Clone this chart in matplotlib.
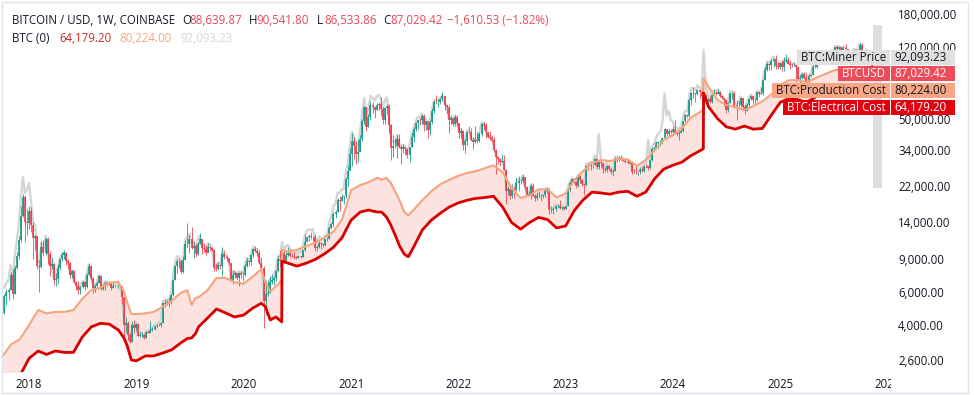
"""BTC weekly candles against miner price, production cost and electrical cost (log scale)."""

# 3rd party libraries
import matplotlib
matplotlib.use("Agg")
import numpy as np
import pandas as pd
import matplotlib.dates as mdates
from matplotlib import pyplot as plt
from matplotlib.patches import Rectangle
from matplotlib.transforms import IdentityTransform

FIG_W, FIG_H = 974, 395

# weekly bars (Coinbase BTC/USD), first bar opens Monday 2017-10-09
first_week = "2017-10-09"
first_open = 4610.0

close_usd = [
    5700, 6010, 6130, 7370, 5860, 8050, 9300, 11300, 15200, 19200, 14000, 13900,
    16200, 13600, 11600, 11800, 8200, 8100, 10400, 9600, 11500, 9500, 8200, 8450, 6930,
    7000, 8000, 8900, 9400, 9650, 8700, 8500, 7350, 7700, 6750, 6450, 6150, 6350,
    6750, 6350, 7400, 8200, 7050, 6300, 6400, 6700, 7270, 6200, 6500, 6700, 6620,
    6590, 6300, 6400, 6420, 6450, 6420, 5600, 4000, 4100, 3530, 3230, 3970, 3850, 4050,
    3500, 3530, 3540, 3410, 3650, 3630, 3750, 3800, 3930, 4000, 3990, 4100,
    5200, 5170, 5300, 5200, 5750, 6960, 8200, 8750, 8740, 7650, 8850, 10700, 10800,
    11450, 10250, 10550, 9500, 10800, 11400, 10300, 10150, 9600, 10400, 10300, 10000, 8050, 7900,
    8300, 8250, 9550, 9200, 9050, 8500, 6900, 7400, 7500, 7100, 7500, 7400, 7350,
    8180, 8700, 8600, 9350, 10150, 9900, 9650, 8550, 8040, 5350, 5800, 5900, 6780,
    6900, 7120, 7700, 8900, 8750, 9680, 8720, 9450, 9670, 9340, 9300, 9120, 9070,
    9300, 9200, 9950, 11050, 11680, 11900, 11650, 11710, 10280, 10330, 10920, 10780, 10670,
    11380, 11500, 13030, 13740, 15480, 15960, 18400, 18180, 19150, 19270, 23860, 26280, 32200,
    38200, 35800, 32300, 33100, 38900, 48600, 57500, 45200, 51200, 59000, 57550, 55800, 58700,
    59800, 56200, 49100, 56600, 58200, 46400, 34700, 35650, 35800, 39100, 35500, 34600, 35300,
    34250, 31800, 35400, 39850, 43800, 47100, 49300, 48850, 51800, 46000, 48300, 43200, 48200,
    55000, 61500, 60900, 61300, 63300, 65500, 58700, 57300, 49400, 50100, 46700, 50800, 47300,
    41800, 43100, 36300, 38200, 42400, 42200, 38400, 37700, 38400, 37800, 41300, 46800, 46400,
    42200, 39700, 39450, 38500, 34100, 31300, 30300, 29450, 29900, 26600, 20550, 21050, 19300,
    20850, 20800, 22600, 23300, 23200, 24300, 21500, 19550, 19800, 21800, 19400, 18800, 19300,
    19400, 19250, 19550, 20600, 20900, 16300, 16250, 16450, 17100, 17100, 16750, 16850, 16600,
    17100, 20900, 22700, 23750, 22950, 21800, 24650, 23550, 22400, 22150, 28000, 27950, 28450,
    28300, 30300, 27600, 29250, 28900, 26900, 26750, 28050, 27100, 25850, 26350, 30500, 30600,
    30150, 30250, 29800, 29300, 29050, 29300, 26100, 26000, 25850, 25850, 26550, 26250, 27950,
    27900, 27150, 29950, 34500, 35000, 37100, 37400, 37450, 39450, 43800, 41350, 43000, 42250,
    43900, 41700, 41600, 42000, 43000, 48300, 52150, 51700, 63100, 68400, 68400, 67200, 71300,
    69350, 65700, 64950, 63100, 63900, 61500, 66950, 68500, 67800, 69600, 66300, 64300, 62700,
    55850, 60800, 68200, 68200, 58100, 58700, 58900, 64200, 57300, 54850, 59100, 63300, 65600, 62800,
    62800, 69000, 67900, 68700, 80400, 90500, 97800, 96400, 101200, 104300, 95200, 93700, 98300,
    94500, 101100, 102600, 97700, 96500, 96150, 96300, 94200, 80700, 82600, 86100, 82400, 78300,
    83700, 85200, 93750, 94300, 104600, 106500, 109000, 104600, 105700, 105500, 100900, 108400, 109200,
    119800, 117300, 119400, 114200, 119300, 117400, 113500, 108200, 111150, 115300, 115250, 112150, 123500,
    115100, 108600, 114500, 110500, 104700, 94200, 88640, 87029.42,
]

high_usd = [
    5860, 6190, 6300, 7600, 7880, 8300, 9700, 11800, 17200, 19890, 19500, 16600,
    17200, 17000, 14100, 12000, 11900, 8800, 11200, 11300, 11700, 11700, 9900, 9200, 8500,
    7500, 8450, 9000, 9750, 9950, 9700, 8900, 8600, 7800, 7800, 6850, 6800, 6450,
    6800, 6800, 7550, 8500, 8300, 7150, 6600, 6800, 7400, 7400, 6600, 6800, 6800,
    6700, 6700, 6800, 6520, 6550, 6550, 6450, 5650, 4400, 4200, 3600, 4200, 4250, 4100,
    4100, 3700, 3650, 3580, 3700, 3700, 4200, 3900, 3950, 4050, 4080, 4150,
    5300, 5450, 5400, 5600, 5850, 7000, 8350, 8950, 9100, 8800, 9300, 11300, 13880,
    12000, 13200, 11100, 10700, 11000, 12300, 11450, 10950, 10600, 10900, 10450, 10350, 10100, 8550,
    8650, 8400, 10350, 9950, 9450, 9100, 8500, 7850, 7750, 7500, 7650, 7700, 7600,
    8450, 9200, 8800, 9550, 10200, 10500, 10250, 9950, 9200, 8200, 6950, 6950, 7300,
    7450, 7250, 7780, 9450, 10000, 9950, 9850, 9750, 10400, 9950, 9600, 9700, 9300,
    9450, 9330, 10000, 12100, 11850, 12100, 12450, 11800, 12100, 10600, 11100, 10980, 10950,
    11450, 11750, 13350, 14100, 15950, 16400, 18800, 19400, 19900, 19400, 24300, 28400, 34800,
    42000, 40100, 37800, 38600, 40900, 49700, 58350, 57500, 52600, 61800, 61200, 58400, 60200,
    61200, 64900, 57500, 57900, 59500, 59600, 46600, 40900, 39500, 41300, 41300, 36000, 36600,
    35100, 34700, 35400, 42600, 45300, 48100, 49400, 50500, 52900, 52900, 48800, 45300, 49200,
    56600, 62900, 67000, 63700, 64200, 69000, 66300, 59300, 59200, 51900, 50500, 51900, 52000,
    47500, 44500, 43500, 38900, 42600, 45800, 44800, 40000, 45400, 42600, 42300, 47200, 48200,
    47400, 42500, 42900, 40700, 40000, 34300, 31400, 30600, 32400, 31800, 26900, 21900, 21500,
    22500, 21600, 24300, 24600, 23700, 25200, 24500, 21900, 20600, 22800, 22700, 19900, 20400,
    20500, 19900, 19700, 21000, 21500, 21450, 17200, 16900, 17400, 17450, 18400, 16950, 16900,
    17200, 21300, 23300, 23950, 24250, 23400, 25250, 25000, 23900, 22700, 28400, 28900, 29200,
    28800, 31000, 30500, 30000, 29300, 28900, 27700, 28400, 28450, 27400, 26800, 31400, 31300,
    31500, 31800, 30400, 30300, 30050, 30200, 29600, 26800, 28150, 26100, 27500, 27500, 28000,
    28600, 28000, 30300, 35200, 35900, 37950, 37950, 38400, 40000, 44700, 44000, 44400, 43800,
    45900, 49000, 43200, 42800, 43800, 48600, 52800, 52900, 64000, 69000, 73800, 68100, 71600,
    71300, 72800, 66900, 67200, 64700, 65500, 67700, 71900, 70000, 71900, 70200, 66900, 63400,
    63800, 61000, 68300, 69400, 70000, 62700, 61800, 65000, 64500, 59800, 60600, 64100, 66500, 65500,
    64500, 69400, 69500, 73600, 81500, 93500, 99600, 98900, 104000, 105000, 108300, 99900, 98900,
    102700, 106400, 109600, 106400, 102500, 98800, 99500, 96500, 95000, 85300, 87400, 88800, 88500,
    86100, 86400, 95800, 97900, 104900, 106600, 110700, 110700, 106800, 110500, 108900, 108500, 110500,
    119900, 123200, 120200, 119800, 122300, 124500, 117600, 113500, 113400, 116700, 117900, 115500, 125700,
    126200, 115900, 114800, 116400, 110800, 107500, 96600, 90541.80,
]

low_usd = [
    4570, 5100, 5400, 6100, 5500, 5800, 7900, 9000, 11000, 15000, 11000, 12000,
    13000, 12500, 9000, 10000, 7900, 6000, 8000, 9300, 9350, 8400, 7300, 7900, 6500,
    6450, 6600, 7800, 8700, 9000, 8300, 7950, 7050, 7050, 6650, 6150, 5800, 5800,
    6250, 6100, 6300, 7400, 6900, 5900, 6000, 6300, 6700, 6100, 6150, 6100, 6400,
    6500, 6150, 6250, 6350, 6250, 6300, 5150, 3500, 3600, 3300, 3200, 3220, 3600, 3700,
    3500, 3450, 3450, 3350, 3400, 3600, 3600, 3700, 3750, 3850, 3950, 3900,
    4100, 4950, 5100, 5000, 5150, 5700, 6900, 7500, 8000, 7450, 7550, 8850, 10400,
    9600, 10100, 9100, 9150, 9400, 10800, 9500, 9750, 9350, 9750, 9900, 9850, 7750, 7750,
    7800, 7900, 7300, 8900, 8700, 8350, 6800, 6550, 7100, 6900, 6450, 7100, 6850,
    7300, 8150, 8250, 8300, 9150, 9700, 9300, 8450, 8000, 3850, 4500, 5700, 5900,
    6600, 6500, 6800, 7600, 8100, 8200, 8650, 8650, 9300, 9200, 9200, 8900, 8950,
    9050, 9050, 9150, 9900, 11000, 11100, 11400, 11150, 9900, 9900, 10250, 10150, 10400,
    10550, 11200, 11400, 12950, 13200, 14800, 15850, 16200, 18100, 17600, 19000, 21800, 26700,
    28000, 30400, 28800, 29300, 33400, 37900, 47000, 43000, 44950, 49300, 53300, 50300, 55500,
    55500, 51500, 47000, 47000, 53000, 42000, 30000, 31200, 34800, 31000, 34900, 28800, 32700,
    32100, 31000, 29300, 35300, 37300, 42800, 43900, 46100, 46700, 42800, 43700, 39600, 40800,
    46900, 53800, 59600, 57800, 59500, 62300, 55600, 53500, 42000, 46800, 45500, 45600, 45700,
    39600, 39600, 34000, 32900, 36300, 41700, 38000, 34300, 37200, 37100, 37600, 40500, 44200,
    39200, 39200, 38500, 37600, 33700, 25400, 28600, 28000, 29300, 26600, 17600, 19600, 18600,
    19000, 18950, 20700, 20700, 22400, 22700, 20800, 19500, 19600, 18600, 19300, 18150, 18500,
    19000, 18200, 18900, 19200, 20100, 15600, 15800, 15500, 16050, 16700, 16500, 16350, 16350,
    16600, 17100, 20400, 22300, 22600, 21400, 21500, 22700, 21900, 19600, 21900, 26600, 26600,
    27200, 28200, 27100, 26900, 27700, 25800, 26100, 25900, 26500, 25400, 24800, 26300, 29500,
    29800, 29950, 29600, 29000, 28600, 28800, 25200, 25800, 25400, 24900, 25300, 26000, 26000,
    27200, 26500, 26950, 29900, 33900, 34500, 35000, 35600, 36800, 39400, 40200, 40500, 41500,
    40800, 41500, 40300, 38500, 41900, 42500, 48200, 50600, 50900, 59000, 64500, 61000, 66400,
    64500, 61000, 59600, 62400, 56500, 60200, 60600, 66300, 66700, 67500, 65100, 63400, 58400,
    53500, 54300, 60700, 63500, 57200, 49000, 56100, 57800, 57200, 52600, 54600, 57600, 62700, 59800,
    58900, 62000, 65100, 67500, 66800, 80000, 89300, 90700, 90500, 94100, 92200, 92100, 91300,
    89300, 89400, 99500, 97800, 91200, 94100, 94900, 78300, 80000, 76600, 81200, 81600, 74400,
    74500, 83000, 85100, 92900, 93400, 100700, 102000, 103000, 100400, 102600, 98200, 99600, 105100,
    107500, 115700, 114700, 112000, 112700, 116800, 110700, 107300, 107300, 110600, 114400, 108600, 111600,
    102000, 103500, 106900, 106300, 99000, 93000, 80600, 86533.86,
]

miner_price = [
    6300, 6700, 6900, 8300, 6800, 9300, 11000, 13600, 19000, 24500, 20000, 21000,
    22700, 17700, 13900, 13600, 8900, 8600, 10900, 10000, 11900, 9800, 8400, 8650, 7080,
    7150, 8150, 9050, 9550, 9800, 8850, 8650, 7480, 7830, 6860, 6550, 6250, 6450,
    6860, 6450, 7520, 8330, 7160, 6400, 6500, 6800, 7380, 6300, 6600, 6800, 6720,
    6690, 6400, 6500, 6520, 6550, 6520, 5690, 4070, 4170, 3590, 3290, 4040, 3920, 4120,
    3570, 3600, 3610, 3480, 3720, 3700, 3830, 3880, 4010, 4080, 4070, 4200,
    5350, 5330, 5460, 5360, 5930, 7250, 8600, 9250, 9200, 8050, 9350, 11400, 11600,
    12200, 10850, 11100, 9950, 11300, 11900, 10750, 10600, 10000, 10800, 10700, 10350, 8300, 8150,
    8550, 8500, 9850, 9480, 9320, 8750, 7100, 7620, 7720, 7310, 7720, 7620, 7570,
    8420, 8960, 8860, 9630, 10450, 10200, 9940, 8810, 8280, 5510, 5970, 6080, 6980,
    7110, 7330, 7930, 9170, 9190, 11000, 10000, 10500, 10600, 10100, 9950, 9670, 9520,
    9770, 9660, 10450, 11800, 12600, 12900, 12700, 12900, 11300, 11250, 11800, 11500, 11300,
    12000, 12100, 14100, 15100, 17200, 17500, 20200, 20000, 21000, 21000, 26000, 28900, 35800,
    42500, 39800, 36000, 36700, 43000, 54000, 64500, 51000, 57300, 66000, 64500, 62300, 65500,
    66800, 63800, 56000, 62500, 64800, 51800, 38000, 37800, 37300, 40500, 36600, 35600, 36300,
    35200, 32700, 36400, 41000, 45000, 48500, 50800, 50300, 53300, 47400, 49700, 44500, 49600,
    56500, 63000, 62300, 62700, 64600, 67000, 60000, 58600, 50500, 51200, 47700, 51900, 48300,
    42600, 44000, 37000, 39000, 43200, 43000, 39200, 38500, 39200, 38600, 42100, 47700, 47300,
    43000, 40500, 40200, 39300, 34800, 32000, 30900, 30000, 30500, 27100, 21000, 21500, 19700,
    21300, 21200, 23100, 23800, 23700, 24800, 21900, 19950, 20200, 22200, 19800, 19200, 19700,
    19800, 19600, 19900, 21000, 21300, 16700, 16600, 16800, 17400, 17400, 17100, 17200, 16900,
    17450, 21400, 23200, 24300, 23450, 22300, 25200, 24100, 23000, 22700, 28700, 28700, 29400,
    29300, 31800, 29000, 41500, 30800, 28200, 27800, 29100, 28000, 26600, 27100, 31300, 31400,
    30900, 31000, 30600, 30000, 29800, 30000, 26700, 26600, 26500, 26500, 27200, 26900, 28700,
    28600, 38500, 30900, 35800, 36700, 40000, 41500, 42500, 48000, 68000, 52000, 55000, 49000,
    48000, 45000, 44500, 44500, 45500, 51000, 55000, 54500, 66500, 72500, 72500, 71000, 75000,
    73000, 70000, 116000, 75000, 67000, 63500, 69000, 70500, 69800, 71500, 68000, 66000, 64300,
    57200, 62300, 69900, 69900, 59500, 60000, 60200, 65600, 58600, 56000, 60400, 64700, 67000, 64200,
    64200, 70500, 69400, 70300, 82500, 93000, 100500, 99000, 104000, 107000, 97800, 96100, 100700,
    96000, 102800, 104300, 99300, 98000, 97600, 97800, 95600, 82000, 83900, 87400, 83700, 79500,
    85000, 86500, 95300, 95800, 106300, 108200, 110800, 106300, 107400, 107200, 102500, 110100, 110900,
    121600, 119100, 121200, 115900, 121100, 119200, 115200, 109800, 112800, 117000, 117000, 113800, 125400,
    116900, 110300, 116200, 112200, 106300, 95700, 93200, 92093.23,
]

# production / electrical cost model, read at these dates
cost_dates = [
    "2017-10-01", "2017-11-01", "2017-12-01", "2018-01-01", "2018-02-01", "2018-03-01",
    "2018-04-01", "2018-05-01", "2018-06-01", "2018-07-01", "2018-08-01", "2018-09-01",
    "2018-10-01", "2018-11-01", "2018-11-20", "2018-12-01", "2018-12-15", "2019-01-01",
    "2019-02-01", "2019-03-01", "2019-04-01", "2019-05-01", "2019-06-01", "2019-06-24",
    "2019-07-08", "2019-07-22", "2019-08-01", "2019-09-01", "2019-10-01", "2019-11-01",
    "2019-12-01", "2020-01-01", "2020-02-01", "2020-03-01", "2020-03-15", "2020-04-01",
    "2020-04-20", "2020-05-10", "2020-05-11", "2020-06-01", "2020-07-01", "2020-08-01",
    "2020-09-01", "2020-10-01", "2020-11-01", "2020-12-01", "2020-12-15", "2021-01-01",
    "2021-02-01", "2021-03-01", "2021-04-01", "2021-04-15", "2021-05-01", "2021-05-15",
    "2021-06-01", "2021-06-15", "2021-07-01", "2021-07-15", "2021-08-01", "2021-09-01",
    "2021-10-01", "2021-11-01", "2021-12-01", "2022-01-01", "2022-02-01", "2022-03-01",
    "2022-04-01", "2022-05-01", "2022-06-01", "2022-07-01", "2022-08-01", "2022-09-01",
    "2022-10-01", "2022-11-01", "2022-12-01", "2023-01-01", "2023-02-01", "2023-03-01",
    "2023-04-01", "2023-05-01", "2023-06-01", "2023-07-01", "2023-08-01", "2023-09-01",
    "2023-10-01", "2023-11-01", "2023-12-01", "2024-01-01", "2024-02-01", "2024-03-01",
    "2024-04-14", "2024-04-15", "2024-05-01", "2024-06-01", "2024-07-01", "2024-08-01",
    "2024-09-01", "2024-10-01", "2024-11-01", "2024-12-01", "2025-01-01", "2025-02-01",
    "2025-03-01", "2025-04-01", "2025-05-01", "2025-06-01", "2025-07-01", "2025-08-01",
    "2025-09-01", "2025-10-01", "2025-11-01", "2025-11-24",
]

electrical_cost = [
    1750, 1950, 2150, 2650, 2900, 2780,
    2900, 2850, 2850, 3440, 3900, 4070,
    4030, 3750, 3400, 3090, 2600, 2570,
    2730, 2730, 2830, 2940, 3200, 3380,
    3400, 3600, 3900, 4350, 4850, 4620,
    4400, 4500, 4900, 5200, 5000, 4240,
    4400, 4140, 8700, 8500, 8200, 8500,
    8900, 9500, 10300, 11600, 12800, 14400,
    15900, 16300, 15900, 15900, 15000, 13700,
    11900, 10500, 9500, 9200, 10300, 12800,
    14400, 15700, 16900, 17800, 18400, 18800,
    19000, 19300, 16900, 14000, 12900, 14000,
    14900, 14500, 13100, 13400, 16300, 18400,
    20300, 20100, 19800, 20300, 20500, 19300,
    20300, 24000, 26900, 28200, 29300, 31600,
    34500, 68400, 58000, 50000, 45200, 43900,
    45600, 43900, 44300, 52000, 61000, 64000,
    63000, 61000, 65000, 69000, 72000, 74000,
    75000, 73000, 67000, 64179.20,
]

production_cost = [
    2700, 3150, 3350, 3990, 4790, 4600,
    4680, 4680, 4790, 5500, 6120, 6300,
    6700, 6750, 6000, 5250, 4560, 4560,
    4600, 4680, 4980, 5360, 5900, 6100,
    5100, 5560, 5600, 6120, 7100, 7100,
    6750, 6600, 7200, 7900, 6750, 6000,
    6400, 6920, 10000, 9800, 10000, 10500,
    10900, 11600, 12500, 14500, 17000, 20800,
    22100, 22900, 24200, 23600, 24200, 22900,
    20300, 18400, 15900, 15300, 16300, 18400,
    20500, 22400, 23600, 24800, 25700, 26200,
    27200, 28200, 25900, 21400, 18900, 19500,
    21000, 21000, 19000, 20000, 23600, 26200,
    28900, 30100, 29700, 30500, 30300, 28000,
    30100, 34000, 38400, 40800, 44500, 50300,
    55500, 82000, 74000, 62800, 59000, 57600,
    55500, 58300, 61700, 67200, 75800, 80000,
    80000, 78000, 82000, 86000, 90000, 92000,
    92000, 89000, 84000, 80224.00,
]

price_ticks = [2600, 4000, 6000, 9000, 14000, 22000, 34000, 50000, 80000, 120000, 180000]
year_ticks = ["2018-01-01", "2019-01-01", "2020-01-01", "2021-01-01", "2022-01-01",
              "2023-01-01", "2024-01-01", "2025-01-01", "2026-01-01"]
year_labels = ["2018", "2019", "2020", "2021", "2022", "2023", "2024", "2025", "2026"]

# header legend texts
header_symbol = "BITCOIN / USD, 1W, COINBASE"
header_ohlc = [("O", "88,639.87"), ("H", "90,541.80"), ("L", "86,533.86"), ("C", "87,029.42")]
header_change = "\u22121,610.53 (\u22121.82%)"
header_study = "BTC (0)"

UP, DOWN = "#089981", "#f23645"
INK = "#131722"
RED_TEXT = "#e5485a"
PROD_COL, ELEC_COL, MINER_COL = "#f5a47e", "#d80000", "#d5d5d5"

plt.rcParams["font.family"] = ["Open Sans", "DejaVu Sans"]
FS = 8.3

fig = plt.figure(figsize=(FIG_W / 100, FIG_H / 100), dpi=100)
ax = fig.add_axes([0, 23 / FIG_H, 889 / FIG_W, 372 / FIG_H])

weeks = mdates.date2num(pd.date_range(first_week, periods=len(close_usd), freq="7D"))
close = np.array(close_usd, dtype=float)
high = np.array(high_usd, dtype=float)
low = np.array(low_usd, dtype=float)
opens = np.r_[first_open, close[:-1]]
rising = close >= opens

# cost band
cost_x = mdates.date2num(pd.to_datetime(cost_dates))
ax.fill_between(cost_x, electrical_cost, production_cost, color="#fde3e0", lw=0, zorder=1)

# miner price sits behind the candles
ax.plot(weeks, miner_price, color=MINER_COL, lw=1.7, zorder=2)

for mask, colour in ((rising, UP), (~rising, DOWN)):
    ax.vlines(weeks[mask], low[mask], high[mask], color=colour, lw=0.55, zorder=3)
    ax.vlines(weeks[mask], opens[mask], close[mask], color=colour, lw=1.15, zorder=3)

ax.plot(cost_x, production_cost, color=PROD_COL, lw=1.5, zorder=4)
ax.plot(cost_x, electrical_cost, color=ELEC_COL, lw=2.0, zorder=4)

ax.set_yscale("log")
ax.set_ylim(2242, 213600)
ax.set_xlim(mdates.datestr2num("2017-09-24"), mdates.datestr2num("2026-01-06"))
for side in ax.spines.values():
    side.set_visible(False)

ax.yaxis.tick_right()
ax.set_yticks(price_ticks)
# the 80,000 level sits fully under the price tags, as on the reference
ax.set_yticklabels(["" if p == 80000 else f"{p:,.2f}" for p in price_ticks])
ax.yaxis.set_minor_locator(matplotlib.ticker.NullLocator())
ax.tick_params(axis="y", length=0, pad=6.5, labelsize=FS, labelcolor=INK)

ax.set_xticks(mdates.datestr2num(year_ticks))
ax.set_xticklabels(year_labels)
ax.tick_params(axis="x", length=0, pad=4, labelsize=FS, labelcolor=INK)

px = IdentityTransform()


def put(x, y, s, color=INK, ha="left", size=FS, **kw):
    return fig.text(x, FIG_H - y, s, color=color, fontsize=size, ha=ha, va="center",
                    transform=px, **kw)


# legend in the top left corner
put(12, 20, header_symbol)
for (letter, value), x0 in zip(header_ohlc, (182, 249, 317, 383)):
    put(x0, 20, letter)
    put(x0 + 7.5, 20, value, color=RED_TEXT)
put(447, 20, header_change, color=RED_TEXT)
put(12, 38, header_study)
put(59, 38, f"{electrical_cost[-1]:,.2f}", color="#cc2a2a")
put(119, 38, f"{production_cost[-1]:,.2f}", color=PROD_COL)
put(180, 38, f"{miner_price[-1]:,.2f}", color="#d6d6d6")

# scroll strip on the price scale edge
fig.add_artist(Rectangle((873, FIG_H - 188), 9, 163, transform=px, fc="#dedede", ec="none", zorder=5))

# price tags stacked round the last close
_, y_last = ax.transData.transform((weeks[-1], close[-1]))
tags = [
    (16, "BTC:Miner Price", miner_price[-1], "#e0e0e0", INK),
    (0, "BTCUSD", close[-1], "#ee4b5b", "white"),
    (-17, "BTC:Production Cost", production_cost[-1], "#f8a684", INK),
    (-34, "BTC:Electrical Cost", electrical_cost[-1], "#e3000f", "white"),
]
renderer = fig.canvas.get_renderer()
for dy, name, value, face, ink in tags:
    yc = y_last + dy
    fig.add_artist(Rectangle((891, yc - 7.5), 64, 15, transform=px, fc=face, ec="none", zorder=6))
    fig.text(894, yc, f"{value:,.2f}", color=ink, fontsize=FS, ha="left", va="center",
             transform=px, zorder=7)
    t = fig.text(886, yc, name, color=ink, fontsize=FS, ha="right", va="center",
                 transform=px, zorder=7)
    ext = t.get_window_extent(renderer=renderer)
    fig.add_artist(Rectangle((ext.x0 - 4, yc - 7.5), 890 - ext.x0 + 4, 15, transform=px,
                             fc=face, ec="none", zorder=6))

# price scale panel hides the end of the last year label
fig.add_artist(Rectangle((891, 0), 83, 22, transform=px, fc="white", ec="none", zorder=5))
fig.add_artist(Rectangle((1.5, 2), 966.5, 391, transform=px, fill=False, ec="#e0e3eb",
                         lw=1, zorder=8))

fig.savefig("out.png", dpi=100)
